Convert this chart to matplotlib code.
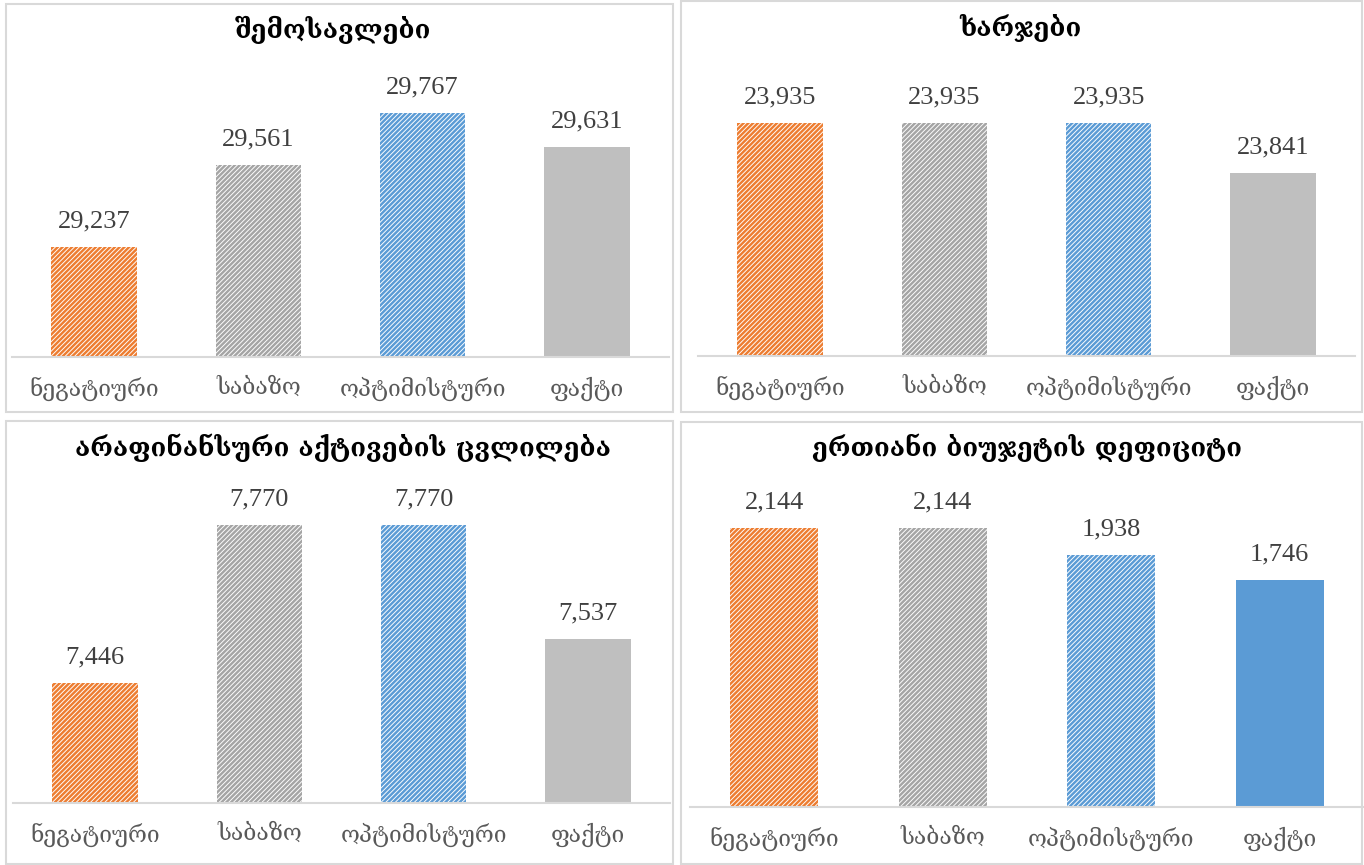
import matplotlib
matplotlib.use("Agg")
import matplotlib.pyplot as plt
from matplotlib.patches import Rectangle

plt.rcParams['hatch.linewidth'] = 1.75

categories = ["ნეგატიური", "საბაზო", "ოპტიმისტური", "ფაქტი"]
titles = ["შემოსავლები", "ხარჯები", "არაფინანსური აქტივების ცვლილება", "ერთიანი ბიუჯეტის დეფიციტი"]
revenue = [29237, 29561, 29767, 29631]
expenses = [23935, 23935, 23935, 23841]
nonfin_assets = [7446, 7770, 7770, 7537]
deficit = [2144, 2144, 1938, 1746]
series = [revenue, expenses, nonfin_assets, deficit]
ylims = [(28800, 30000), (23500, 24000), (7200, 7900), (0, 2500)]

W, H = 1364, 865
fig = plt.figure(figsize=(W / 100, H / 100), dpi=100)

# panel layout in pixels: (box x0, y0, x1, y1), axes (left, right, baseline, px per unit), title (x, y)
panels = [
    dict(box=(6, 4, 673, 412), ax=(12, 669, 357, 0.2525), title=(333, 30)),
    dict(box=(681, 1, 1362, 412), ax=(698, 1355, 356, 0.5356), title=(1020, 28)),
    dict(box=(6, 421, 673, 864), ax=(13, 670, 803, 0.487), title=(343, 448)),
    dict(box=(681, 422, 1362, 864), ax=(690, 1364, 807, 0.1301), title=(1027, 448)),
]

hatch_colors = ["#ED7D31", "#A5A5A5", "#5B9BD5"]
fact_colors = ["#BFBFBF", "#BFBFBF", "#BFBFBF", "#5B9BD5"]
geo_font = ['DejaVu Serif', 'DejaVu Sans']
num_font = ['Liberation Serif', 'DejaVu Serif']

for i, p in enumerate(panels):
    x0, y0, x1, y1 = p['box']
    fig.patches.append(Rectangle((x0 / W, 1 - y1 / H), (x1 - x0) / W, (y1 - y0) / H,
                                 transform=fig.transFigure, fill=False,
                                 edgecolor="#D9D9D9", linewidth=1.5, zorder=0))
    left, right, base, ppu = p['ax']
    ymin, ymax = ylims[i]
    top = base - (ymax - ymin) * ppu
    ax = fig.add_axes([left / W, 1 - base / H, (right - left) / W, (base - top) / H])
    vals = series[i]
    xs = list(range(len(categories)))
    for j, v in enumerate(vals):
        if j < 3:
            ax.bar(xs[j], v - ymin, bottom=ymin, width=0.52, facecolor="white",
                   edgecolor=hatch_colors[j], hatch="///////", linewidth=0)
        else:
            ax.bar(xs[j], v - ymin, bottom=ymin, width=0.52, color=fact_colors[i], linewidth=0)
        ax.annotate(f"{v:,}", (xs[j], v), xytext=(0, 10.5), textcoords="offset points",
                    ha="center", va="bottom", fontsize=19, color="#404040",
                    family=num_font, annotation_clip=False)
    ax.set_ylim(ymin, ymax)
    ax.set_xlim(-0.5, len(categories) - 0.5)
    ax.set_xticks(xs)
    ax.set_xticklabels(categories, fontsize=16.5, color="#595959", family=geo_font)
    ax.tick_params(axis='x', length=0, pad=14)
    ax.set_yticks([])
    for s in ["top", "left", "right"]:
        ax.spines[s].set_visible(False)
    ax.spines["bottom"].set_color("#D9D9D9")
    ax.spines["bottom"].set_linewidth(1.5)
    ax.patch.set_alpha(0)
    tx, ty = p['title']
    fig.text(tx / W, 1 - ty / H, titles[i], ha="center", va="center", fontsize=18.5,
             fontweight="bold", color="black", family=geo_font)

fig.savefig("out.png", dpi=100)
